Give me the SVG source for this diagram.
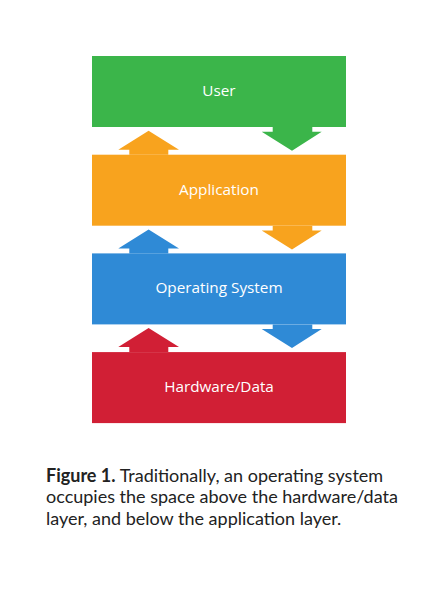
<svg xmlns="http://www.w3.org/2000/svg" width="438" height="598" viewBox="0 0 438 598">
<style>
.lbl{font-family:"Open Sans","Liberation Sans",sans-serif;font-size:15.3px;fill:#fff;text-anchor:middle}
.cap{font-family:Lato,"Liberation Sans",sans-serif;font-size:18px;fill:#222}
.g{fill:#3bb54a}.o{fill:#f8a31e}.b{fill:#2f8ad6}.r{fill:#d11f35}
</style>
<defs>
<path id="down" d="M272.7 0 H312.3 V4.7 H321.7 L292 23.7 L261.7 4.7 H272.7 Z"/>
<path id="up" d="M129.3 0 V-5 H118.3 L148.6 -24 L179 -5 H168.3 V0 Z"/>
</defs>
<rect width="438" height="598" fill="#fff"/>
<g id="connectors">
<use href="#down" class="g" y="127"/>
<use href="#up" class="o" y="154.7"/>
<use href="#down" class="o" y="225.7"/>
<use href="#up" class="b" y="253.4"/>
<use href="#down" class="b" y="324.4"/>
<use href="#up" class="r" y="352.1"/>
</g>
<g id="user"><rect class="g" x="92" y="56" width="254" height="71"/><text class="lbl" x="219" y="96">User</text></g>
<g id="application"><rect class="o" x="92" y="154.7" width="254" height="71"/><text class="lbl" x="219" y="194.5">Application</text></g>
<g id="os"><rect class="b" x="92" y="253.4" width="254" height="71"/><text class="lbl" x="219" y="293">Operating System</text></g>
<g id="hardware"><rect class="r" x="92" y="352.1" width="254" height="71"/><text class="lbl" x="219" y="391.8">Hardware/Data</text></g>
<g id="caption">
<text class="cap" x="46" y="481.7"><tspan font-weight="bold">Figure 1.</tspan> Traditionally, an operating system</text>
<text class="cap" x="46" y="503.2">occupies the space above the hardware/data</text>
<text class="cap" x="46" y="524.5">layer, and below the application layer.</text>
</g>
</svg>
